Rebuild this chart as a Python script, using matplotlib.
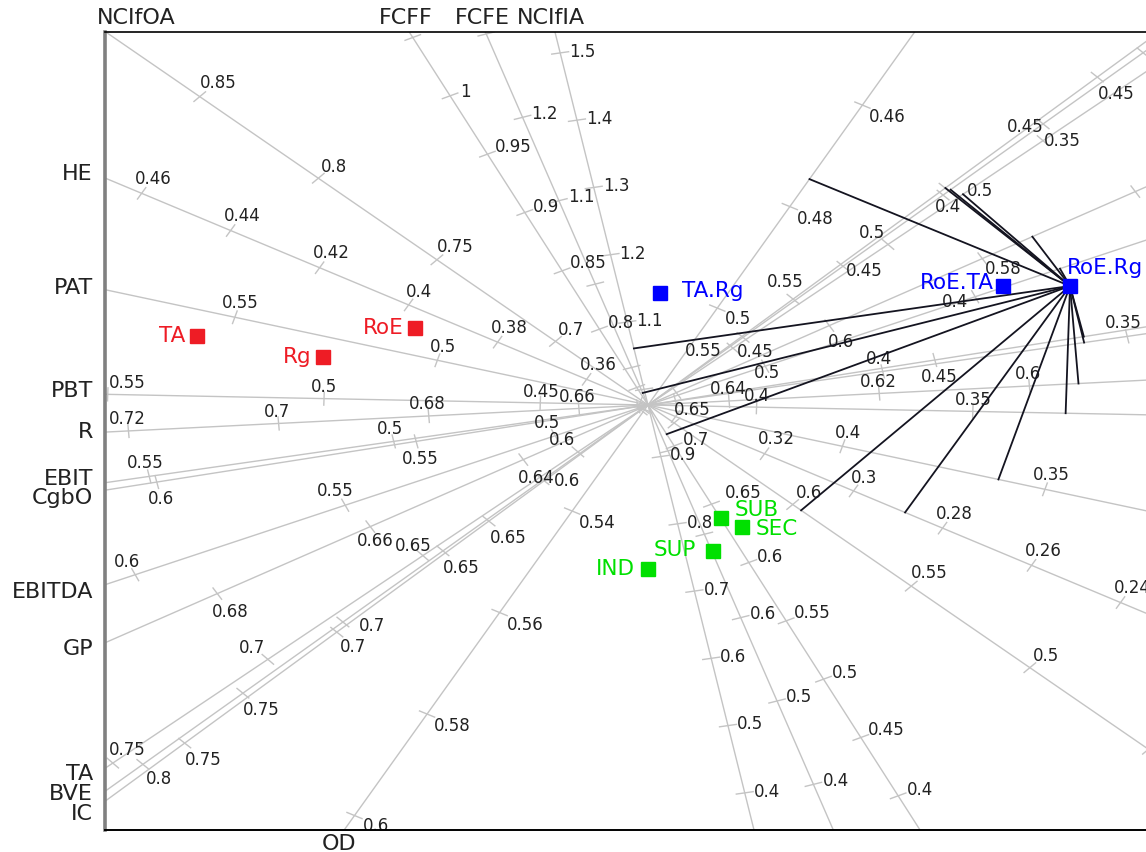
import numpy as np
import matplotlib
matplotlib.use("Agg")
import matplotlib.pyplot as plt

# ---------------- data ----------------
# calibrated biplot axes (direction of increasing values, value at origin, length per unit)
axis_names = ["NCIfOA", "HE", "PAT", "PBT", "R", "EBIT", "CgbO", "EBITDA",
              "GP", "TA", "BVE", "IC", "OD", "FCFF", "FCFE", "NCIfIA"]
axis_angle_deg = [137.76, 151.11, 164.34, 178.51, 183.77, 190.70, 191.70, 203.6,
                  210.03, 221.45, 223.2, 223.93, 241.56, 115.87, 108.28, 100.7]
axis_center_value = [0.661, 0.3462, 0.448, 0.4251, 0.6508, 0.448, 0.5053, 0.4779,
                     0.6237, 0.5774, 0.5475, 0.5977, 0.5191, 0.735, 0.855, 0.9766]
axis_unit_length = [2427, 3850, 3187, 3278, 5700, 3770, 4013, 3472,
                    6694, 3134, 2079, 3200, 5771, 1296.6, 878.1, 684.6]

ticks_NCIfOA = [0.45, 0.5, 0.55, 0.6, 0.65, 0.7, 0.75, 0.8, 0.85]
ticks_HE = [0.24, 0.26, 0.28, 0.3, 0.32, 0.34, 0.36, 0.38, 0.4, 0.42, 0.44, 0.46]
ticks_PAT = [0.35, 0.4, 0.45, 0.5, 0.55]
ticks_PBT = [0.35, 0.4, 0.45, 0.5, 0.55]
ticks_R = [0.6, 0.62, 0.64, 0.66, 0.68, 0.7, 0.72]
ticks_EBIT = [0.35, 0.4, 0.45, 0.5, 0.55]
ticks_CgbO = [0.45, 0.5, 0.55, 0.6]
ticks_EBITDA = [0.4, 0.45, 0.5, 0.55, 0.6]
ticks_GP = [0.56, 0.58, 0.6, 0.62, 0.64, 0.66, 0.68]
ticks_TA = [0.45, 0.5, 0.55, 0.6, 0.65, 0.7, 0.75]
ticks_BVE = [0.3, 0.35, 0.4, 0.45, 0.5, 0.55, 0.6, 0.65, 0.7, 0.75, 0.8]
ticks_IC = [0.45, 0.5, 0.55, 0.6, 0.65, 0.7, 0.75]
ticks_OD = [0.46, 0.48, 0.5, 0.52, 0.54, 0.56, 0.58, 0.6]
ticks_FCFF = [0.4, 0.45, 0.5, 0.55, 0.6, 0.65, 0.7, 0.75, 0.8, 0.85, 0.9, 0.95, 1, 1.05]
ticks_FCFE = [0.4, 0.5, 0.6, 0.7, 0.8, 0.9, 1, 1.1, 1.2, 1.3]
ticks_NCIfIA = [0.4, 0.5, 0.6, 0.7, 0.8, 0.9, 1, 1.1, 1.2, 1.3, 1.4, 1.5]

# tick values drawn without a number
unlabelled = {"HE": [0.34], "PAT": [0.45], "EBIT": [0.45], "CgbO": [0.5],
              "GP": [0.62], "BVE": [0.55], "IC": [0.6], "OD": [0.52],
              "FCFF": [0.75], "FCFE": [1.0, 0.9, 0.8, 0.7], "NCIfIA": [1.0]}

sample_names = ["TA", "Rg", "RoE", "TA.Rg", "RoE.TA", "RoE.Rg", "SUB", "SEC", "SUP", "IND"]
sample_x = [-341.7, -246.2, -176.5, 9.1, 268.9, 319.7, 55.3, 71.2, 49.2, 0.0]
sample_y = [69, 48, 77, 112, 119, 119, -113, -122, -146, -164]
sample_group = ["main", "main", "main", "inter", "inter", "inter",
                "sector", "sector", "sector", "sector"]
projected_sample = "RoE.Rg"

# ---------------- style ----------------
axis_ticks = [ticks_NCIfOA, ticks_HE, ticks_PAT, ticks_PBT, ticks_R, ticks_EBIT,
              ticks_CgbO, ticks_EBITDA, ticks_GP, ticks_TA, ticks_BVE, ticks_IC,
              ticks_OD, ticks_FCFF, ticks_FCFE, ticks_NCIfIA]
label_side = [1, 1, 1, 1, 1, 1, -1, 1, -1, 1, -1, -1, -1, 1, 1, 1]
name_dx = [30, 0, 0, 0, 0, 0, 0, 0, 0, 0, 0, 0, -5, -3, -3, -4]
name_dy = [0, -4, -2, -3, 0, -4, 8, 7, 6, 6, 3, 13, 0, 0, 0, 0]
# tick-label nudges in screen pixels (dx right, dy down)
label_nudge = {("EBITDA", 0.4): (-11, 18), ("BVE", 0.5): (8, 20),
               ("IC", 0.55): (-27, -34), ("TA", 0.55): (-12, 16),
               ("IC", 0.5): (18, -12), ("BVE", 0.4): (-11, -3),
               ("BVE", 0.45): (2, -12), ("BVE", 0.6): (8, -14),
               ("BVE", 0.7): (13, -11), ("GP", 0.58): (8, -8),
               ("GP", 0.66): (-8, -4), ("TA", 0.65): (8, 4),
               ("FCFF", 0.65): (6, -4)}

group_color = {"main": "#ee1c25", "inter": "#0000ff", "sector": "#00e000"}
# label placement (ha, va, dx px, dy px screen-down)
label_place = {"TA": ("right", "center", -12, 0), "Rg": ("right", "center", -12, 0),
               "RoE": ("right", "center", -11, 0), "TA.Rg": ("left", "center", 22, -2),
               "RoE.TA": ("right", "center", -9, -3), "RoE.Rg": ("left", "bottom", -3, -8),
               "SUB": ("left", "center", 14, -8), "SEC": ("left", "center", 14, 2),
               "SUP": ("right", "center", -17, -1), "IND": ("right", "center", -13, 0)}

GRAY = "#c4c4c4"
TXT = "#222222"
XS = 1.32  # horizontal pixels per biplot unit

W, H = 1146, 852
left_px, right_px, top_px, bottom_px = 105, 1146, 32, 830
cx, cy = 648, 405

fig = plt.figure(figsize=(W / 100, H / 100), dpi=100)
ax = fig.add_axes([left_px / W, 1 - bottom_px / H, (right_px - left_px) / W,
                   (bottom_px - top_px) / H])
xmin, xmax = (left_px - cx) / XS, (right_px - cx) / XS
ymin, ymax = cy - bottom_px, cy - top_px
ax.set_xlim(xmin, xmax)
ax.set_ylim(ymin, ymax)
ax.set_xticks([])
ax.set_yticks([])
ax.spines["right"].set_visible(False)
ax.spines["left"].set_color("#808080")
ax.spines["left"].set_linewidth(2.6)
ax.spines["top"].set_color("black")
ax.spines["top"].set_linewidth(1.2)
ax.spines["bottom"].set_color("black")
ax.spines["bottom"].set_linewidth(1.4)


def text_width_px(s, size=12):
    em = size * 100 / 72
    w = 0
    for ch in s:
        w += 0.318 * em if ch == "." else 0.636 * em
    return w


def exit_point(d):
    cand = []
    if d[0] < 0:
        cand.append((xmin / d[0], "left"))
    if d[0] > 0:
        cand.append((xmax / d[0], "right"))
    if d[1] > 0:
        cand.append((ymax / d[1], "top"))
    if d[1] < 0:
        cand.append((ymin / d[1], "bottom"))
    t, side = min(cand)
    return t * d, side


dirs = []
for i, name in enumerate(axis_names):
    th = np.deg2rad(axis_angle_deg[i])
    d = np.array([np.cos(th), np.sin(th)])
    dirs.append(d)
    nrm = np.array([d[1], -d[0]]) * label_side[i]
    ax.plot([-3000 * d[0], 3000 * d[0]], [-3000 * d[1], 3000 * d[1]],
            color=GRAY, lw=1.0, zorder=1)
    skip = unlabelled.get(name, [])
    for t in axis_ticks[i]:
        p = (t - axis_center_value[i]) * axis_unit_length[i] * d
        a, b = p + 6.5 * nrm, p - 6.5 * nrm
        ax.plot([a[0], b[0]], [a[1], b[1]], color=GRAY, lw=1.0, zorder=1)
        if any(np.isclose(t, s) for s in skip):
            continue
        lab = f"{t:g}"
        w = text_width_px(lab) / 2 / XS
        off = 6 + abs(nrm[0]) * w + abs(nrm[1]) * 7
        c = p + off * nrm
        for (an, av), (ndx, ndy) in label_nudge.items():
            if an == name and np.isclose(av, t):
                c = c + np.array([ndx / XS, -ndy])
        inside_tick = xmin <= p[0] <= xmax and ymin <= p[1] <= ymax
        if inside_tick and c[0] - w < xmin + 3 / XS:
            c[0] = xmin + w + 4 / XS
        if xmin < c[0] < xmax and ymin + 4 < c[1] < ymax - 4:
            ax.text(c[0], c[1], lab, ha="center", va="center_baseline",
                    fontsize=12, color=TXT, zorder=2, clip_on=True)
    # axis name at the positive end
    e, side = exit_point(d)
    if side == "left":
        ax.annotate(name, xy=(e[0], e[1]), xytext=(-12 + name_dx[i], -name_dy[i]),
                    textcoords="offset pixels", ha="right", va="center",
                    fontsize=16, color=TXT, annotation_clip=False)
    elif side == "top":
        ax.annotate(name, xy=(e[0], e[1]), xytext=(name_dx[i], 4),
                    textcoords="offset pixels", ha="center", va="bottom",
                    fontsize=16, color=TXT, annotation_clip=False)
    elif side == "bottom":
        ax.annotate(name, xy=(e[0], e[1]), xytext=(name_dx[i], -4),
                    textcoords="offset pixels", ha="center", va="top",
                    fontsize=16, color=TXT, annotation_clip=False)

# prediction lines from the projected sample
k = sample_names.index(projected_sample)
z = np.array([sample_x[k], sample_y[k]])
for d in dirs:
    f = (z @ d) * d
    ax.plot([z[0], f[0]], [z[1], f[1]], color="#141420", lw=1.3, zorder=3)

# samples
for nm, x, y, g in zip(sample_names, sample_x, sample_y, sample_group):
    col = group_color[g]
    ax.plot([x], [y], marker="s", ms=10, color=col, ls="none", zorder=5)
    ha, va, dx, dy = label_place[nm]
    ax.annotate(nm, xy=(x, y), xytext=(dx, -dy), textcoords="offset pixels",
                ha=ha, va=va, fontsize=15.5, color=col, zorder=6)

fig.savefig("out.png", dpi=100)
